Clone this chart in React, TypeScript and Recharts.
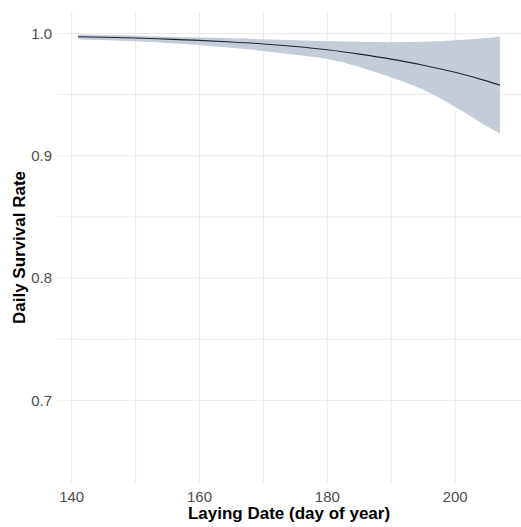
import { ComposedChart, Area, Line, XAxis, YAxis, CartesianGrid } from 'recharts';

// laying date (day of year)
const days = [141, 145, 150, 155, 160, 165, 170, 175, 180, 185, 190, 195, 200, 205, 207];
// fitted daily survival rate
const dsr = [0.9973, 0.9969, 0.9962, 0.9953, 0.9943, 0.993, 0.9914, 0.9893, 0.9866, 0.9831, 0.979, 0.974, 0.9683, 0.961, 0.9577];
// 95% CI lower / upper
const lower = [0.9953, 0.9946, 0.9935, 0.9921, 0.9904, 0.9883, 0.9857, 0.9825, 0.979, 0.9725, 0.964, 0.954, 0.94, 0.924, 0.9182];
const upper = [0.9991, 0.9986, 0.998, 0.9973, 0.9966, 0.996, 0.9952, 0.9944, 0.9938, 0.9932, 0.9928, 0.9932, 0.9945, 0.9962, 0.9972];

const xTicks = [140, 150, 160, 170, 180, 190, 200];
const yTicks = [0.7, 0.75, 0.8, 0.85, 0.9, 0.95, 1.0];

const X_DOMAIN = [137.7, 210.3];
const Y_DOMAIN = [0.6325, 1.0175];

const FONT = '"Liberation Sans", Arial, Helvetica, sans-serif';

const data = days.map((d, i) => ({ day: d, dsr: dsr[i], ci: [lower[i], upper[i]] }));

// only major breaks get a label, minor ones just draw a grid line
const isMajor = (v: number, step: number) => Math.abs(Math.round(v / step) * step - v) < 1e-6;

// grid lines only at the breaks (no border lines on the panel edges)
const hLines = ({ yAxis, offset }: any) =>
  yTicks.map((t) =>
    yAxis && typeof yAxis.scale === 'function'
      ? yAxis.scale(t)
      : offset.top + ((Y_DOMAIN[1] - t) / (Y_DOMAIN[1] - Y_DOMAIN[0])) * offset.height
  );
const vLines = ({ xAxis, offset }: any) =>
  xTicks.map((t) =>
    xAxis && typeof xAxis.scale === 'function'
      ? xAxis.scale(t)
      : offset.left + ((t - X_DOMAIN[0]) / (X_DOMAIN[1] - X_DOMAIN[0])) * offset.width
  );

export default function App() {
  return (
    <div style={{ position: 'absolute', left: 0, top: 0, background: '#fff' }}>
      <ComposedChart
        width={521}
        height={527}
        data={data}
        margin={{ top: 12, right: 0, bottom: 0, left: 0 }}
      >
        <CartesianGrid
          stroke="#ebebeb"
          strokeWidth={1}
          horizontalCoordinatesGenerator={hLines}
          verticalCoordinatesGenerator={vLines}
        />
        <XAxis
          dataKey="day"
          type="number"
          domain={X_DOMAIN}
          ticks={xTicks}
          allowDataOverflow
          axisLine={false}
          tickLine={false}
          tickSize={6}
          tickMargin={2}
          height={44}
          tickFormatter={(v: number) => (isMajor(v, 20) ? String(v) : '')}
          tick={{ fill: '#4d4d4d', fontSize: 15, fontFamily: FONT }}
          label={{
            content: (p: any) => {
              const vb = p.viewBox;
              return (
                <text
                  x={vb.x + vb.width / 2}
                  y={519}
                  textAnchor="middle"
                  fontFamily={FONT}
                  fontSize={17}
                  fontWeight="bold"
                  fill="#000"
                >
                  Laying Date (day of year)
                </text>
              );
            },
          }}
        />
        <YAxis
          type="number"
          domain={Y_DOMAIN}
          ticks={yTicks}
          allowDataOverflow
          axisLine={false}
          tickLine={false}
          tickSize={3}
          tickMargin={2}
          width={57}
          tickFormatter={(v: number) => (isMajor(v, 0.1) ? v.toFixed(1) : '')}
          tick={{ fill: '#4d4d4d', fontSize: 15, fontFamily: FONT }}
          label={{
            content: (p: any) => {
              const vb = p.viewBox;
              const cy = vb.y + vb.height / 2;
              return (
                <text
                  x={25}
                  y={cy}
                  transform={`rotate(-90, 25, ${cy})`}
                  textAnchor="middle"
                  fontFamily={FONT}
                  fontSize={17}
                  fontWeight="bold"
                  fill="#000"
                >
                  Daily Survival Rate
                </text>
              );
            },
          }}
        />
        <Area
          dataKey="ci"
          type="monotone"
          stroke="none"
          fill="#c4ccd8"
          fillOpacity={1}
          isAnimationActive={false}
        />
        <Line
          dataKey="dsr"
          type="monotone"
          stroke="#1f2533"
          strokeWidth={1.1}
          dot={false}
          isAnimationActive={false}
        />
      </ComposedChart>
    </div>
  );
}
